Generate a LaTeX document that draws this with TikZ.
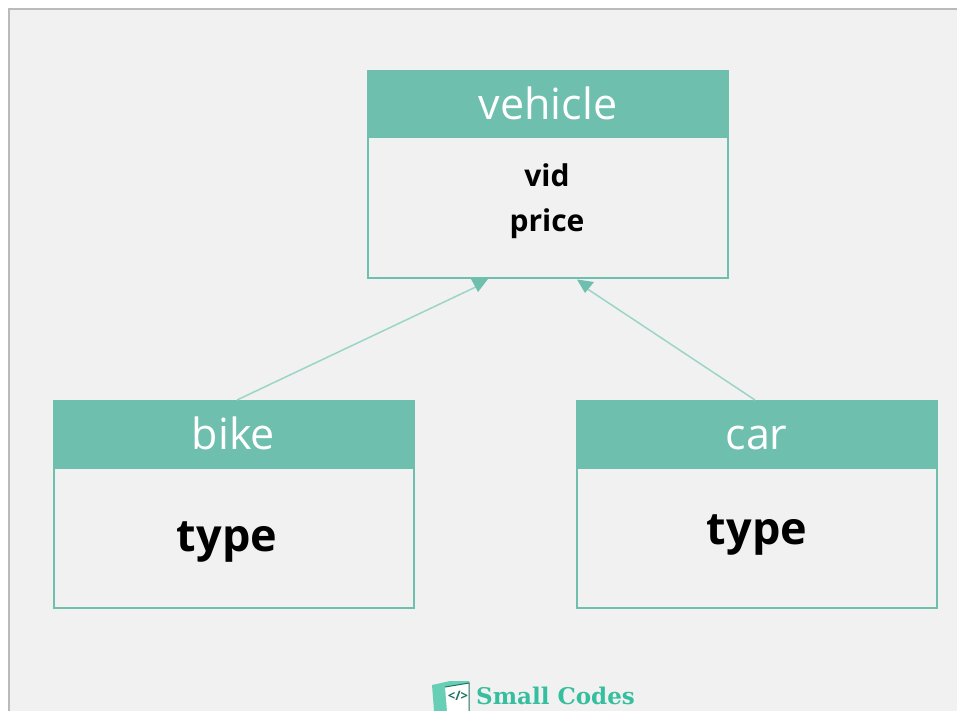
\documentclass[tikz,border=0pt]{standalone}
\usepackage{fontspec}
\setmainfont{Open Sans}
\newfontfamily\logofont{DejaVu Serif}
\definecolor{teal1}{HTML}{6FBFAE}
\definecolor{teal2}{HTML}{9AD5C7}
\definecolor{paper}{HTML}{F1F1F1}
\definecolor{edgegray}{HTML}{BABABA}
\definecolor{logoteal}{HTML}{35BF9F}
\begin{document}
\begin{tikzpicture}[
    x=1pt,y=-1pt,
    head/.style={
      rectangle,
      draw=teal1,
      fill=teal1,
      line width=2pt,
      text=white,
      minimum width=360pt,
      minimum height=66pt,
      inner sep=0pt,
      text height=31pt,
      text depth=0pt,
      font=\fontsize{43}{48}\selectfont
    },
    body/.style={
      rectangle,
      draw=teal1,
      line width=2pt,
      minimum width=360pt,
      minimum height=140pt,
      inner sep=0pt
    },
    label/.style={
      anchor=base,
      font=\fontsize{30}{36}\selectfont\bfseries,
      inner sep=0pt
    },
    biglabel/.style={
      anchor=base,
      font=\fontsize{45}{52}\selectfont\bfseries,
      inner sep=0pt
    },
    link/.style={
      draw=teal2,
      line width=1.5pt
    },
    tip/.style={
      fill=teal1
    }
]
\useasboundingbox (0,0) rectangle (957,711);
\clip (0,0) rectangle (957,711);

\fill[paper] (8,9) rectangle (957,711);
\draw[edgegray,line width=2pt] (8.5,711) -- (8.5,9.5) -- (957,9.5);

\node[body] (vehicle) at (548,207.5) {};
\node[head] (vehiclehead) at (548,104.5) {vehicle};
\node[label] (vid) at (547,187) {vid};
\node[label] (price) at (547,231) {price};

\node[body] (bike) at (233.5,537.5) {};
\node[head] (bikehead) at (233.5,434) {bike};
\node[biglabel] (biketype) at (227,551) {type};

\node[body] (car) at (756.5,537.5) {};
\node[head] (carhead) at (756.5,434) {car};
\node[biglabel] (cartype) at (757,544) {type};

\coordinate (bikeout) at (237,400);
\coordinate (carout) at (755,400);
\coordinate (bikein) at (480,285);
\coordinate (carin) at (586,288);

\draw[link] (bikeout) -- (bikein);
\draw[link] (carout) -- (carin);

\fill[tip] (471,279) -- (488,279) -- (478,292) -- cycle;
\fill[tip] (577,279.5) -- (594,282) -- (585,293) -- cycle;

% logo
\fill[logoteal!75] (432,685) -- (450,681) -- (469,681) -- (469,684) -- (446,688) -- (448,711) -- (434,711) -- cycle;
\fill[white] (445,687) -- (469,683) -- (469,711) -- (447,711) -- cycle;
\draw[logoteal!60!black,line width=1pt] (445,687) -- (469,683) -- (469,711);
\node[inner sep=0pt,text=logoteal!60!black,font=\fontsize{13}{13}\selectfont\bfseries] (logocode) at (458,696) {</>};
\node[anchor=base west,inner sep=0pt,text=logoteal,font=\logofont\fontsize{23}{26}\selectfont\bfseries] (logotext) at (476,704) {Small Codes};

\end{tikzpicture}
\end{document}
